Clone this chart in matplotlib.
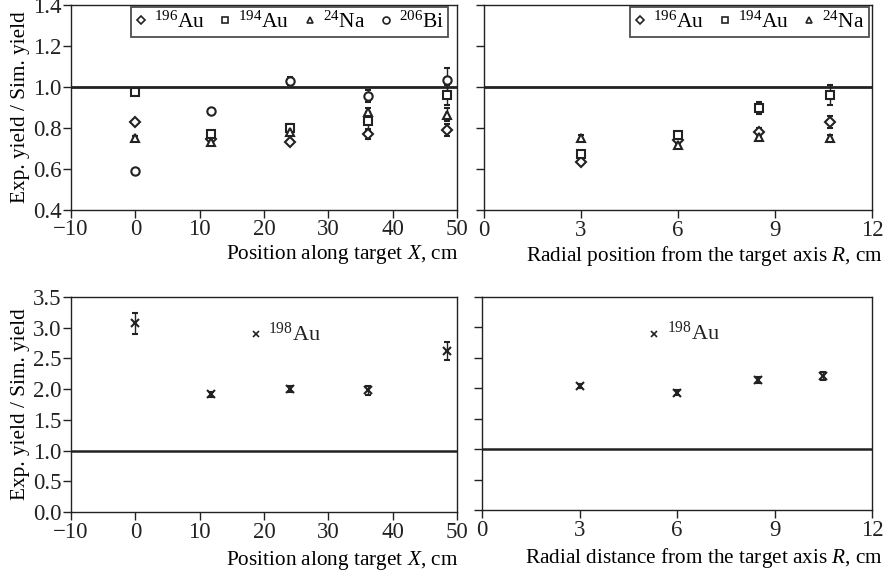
import matplotlib
matplotlib.use("Agg")
import matplotlib.pyplot as plt
import numpy as np

plt.rcParams['font.family'] = ['Liberation Serif', 'DejaVu Serif']
plt.rcParams['mathtext.fontset'] = 'custom'
plt.rcParams['mathtext.rm'] = 'Liberation Serif'
plt.rcParams['mathtext.it'] = 'Liberation Serif:italic'

# ---- Data ----
x_pos = [0, 11.8, 24, 36.2, 48.5]
au196_x = [0.827, 0.745, 0.73, 0.767, 0.79]
au196_x_err = [0.01, 0.01, 0.01, 0.02, 0.03]
au194_x = [0.977, 0.77, 0.797, 0.835, 0.96]
au194_x_err = [0.01, 0.01, 0.02, 0.04, 0.05]
na24_x = [0.75, 0.73, 0.778, 0.878, 0.864]
na24_x_err = [0.01, 0.01, 0.02, 0.02, 0.03]
bi206_x = [0.588, 0.883, 1.03, 0.956, 1.034]
bi206_x_err = [0.01, 0.01, 0.02, 0.03, 0.06]

r_pos = [3, 6, 8.5, 10.7]
au196_r = [0.635, 0.745, 0.78, 0.83]
au196_r_err = [0.01, 0.01, 0.02, 0.03]
au194_r = [0.675, 0.768, 0.9, 0.963]
au194_r_err = [0.01, 0.01, 0.03, 0.05]
na24_r = [0.755, 0.72, 0.76, 0.755]
na24_r_err = [0.01, 0.01, 0.01, 0.01]

au198_x = [3.07, 1.92, 2.0, 1.98, 2.62]
au198_x_err = [0.17, 0.04, 0.05, 0.07, 0.14]
r_pos2 = [3, 6, 8.5, 10.5]
au198_r = [2.04, 1.93, 2.13, 2.2]
au198_r_err = [0.03, 0.04, 0.05, 0.06]

labels = [r'$^{196}$Au', r'$^{194}$Au', r'$^{24}$Na', r'$^{206}$Bi']
markers = ['D', 's', '^', 'o']
msizes = [5, 6, 6, 6]

C = '#222222'
FS_TICK = 16.5
FS_LAB = 15.3
FS_LEG = 15.5

fig = plt.figure(figsize=(8.88, 5.73), dpi=100)
W, H = 888, 573

def add_ax(l, r, t, b):
    return fig.add_axes([l / W, 1 - b / H, (r - l) / W, (b - t) / H])

ax1 = add_ax(71, 457, 5, 209.5)
ax2 = add_ax(484, 872, 5, 210.5)
ax3 = add_ax(71, 457, 297, 512)
ax4 = add_ax(482, 872, 297, 510)

def style(ax):
    for s in ax.spines.values():
        s.set_color(C)
        s.set_linewidth(1.0)
    ax.tick_params(direction='out', length=6, width=1.0, colors=C,
                   labelsize=FS_TICK, pad=1)

def plot_series(ax, x, ys, errs, mk, ms):
    ax.errorbar(x, ys, yerr=errs, fmt=mk, ms=ms, mfc='white', mec=C, mew=1.5,
                ecolor=C, elinewidth=1.0, capsize=2, capthick=1.0, zorder=3)

def legend(ax, n, anchor):
    handles = [plt.Line2D([], [], ls='none', marker=mk, ms=4 if mk == 'D' else 5,
                          mfc='white', mec=C, mew=1.2) for mk in markers[:n]]
    leg = ax.legend(handles, labels[:n], ncol=n, loc='upper right', fontsize=FS_LEG,
                    frameon=True, fancybox=False, edgecolor=C, handlelength=0.5,
                    handletextpad=0.35, columnspacing=0.7, borderpad=0.2,
                    bbox_to_anchor=anchor, borderaxespad=0.0)
    leg.get_frame().set_linewidth(1.3)
    return leg

# Top-left
series_x = [(au196_x, au196_x_err), (au194_x, au194_x_err),
            (na24_x, na24_x_err), (bi206_x, bi206_x_err)]
for (y, e), mk, ms in zip(series_x, markers, msizes):
    plot_series(ax1, x_pos, y, e, mk, ms)
ax1.axhline(1.0, color=C, lw=2.0, zorder=2)
ax1.set_xlim(-10, 50)
ax1.set_ylim(0.4, 1.4)
ax1.set_xticks([-10, 0, 10, 20, 30, 40, 50])
ax1.set_xticklabels(['\u221210', '0', '10', '20', '30', '40', '50'])
ax1.set_yticks([0.4, 0.6, 0.8, 1.0, 1.2, 1.4])
ax1.set_yticklabels(['0.4', '0.6', '0.8', '1.0', '1.2', '1.4'])
ax1.set_xlabel(r'Position along target $X$, cm', fontsize=FS_LAB, ha='right', va='center')
ax1.xaxis.set_label_coords(1.003, -0.22)
ax1.set_ylabel('Exp. yield / Sim. yield', fontsize=FS_LAB, va='center')
ax1.yaxis.set_label_coords(-0.13, 0.5)
style(ax1)
legend(ax1, 4, (0.977, 0.99))

# Top-right
series_r = [(au196_r, au196_r_err), (au194_r, au194_r_err), (na24_r, na24_r_err)]
for (y, e), mk, ms in zip(series_r, markers[:3], msizes[:3]):
    plot_series(ax2, r_pos, y, e, mk, ms)
ax2.axhline(1.0, color=C, lw=2.0, zorder=2)
ax2.set_xlim(0, 12)
ax2.set_ylim(0.4, 1.4)
ax2.set_xticks([0, 3, 6, 9, 12])
ax2.set_yticks([0.4, 0.6, 0.8, 1.0, 1.2, 1.4])
ax2.set_yticklabels([])
ax2.set_xlabel(r'Radial position from the target axis $R$, cm', fontsize=FS_LAB, ha='right', va='center')
ax2.xaxis.set_label_coords(1.028, -0.22)
style(ax2)
legend(ax2, 3, (0.992, 0.99))

# Bottom-left
plot_series(ax3, x_pos, au198_x, au198_x_err, 'x', 6)
ax3.axhline(1.0, color=C, lw=1.8, zorder=2)
ax3.set_xlim(-10, 50)
ax3.set_ylim(0, 3.5)
ax3.set_xticks([-10, 0, 10, 20, 30, 40, 50])
ax3.set_xticklabels(['\u221210', '0', '10', '20', '30', '40', '50'])
ax3.set_yticks([0, 0.5, 1.0, 1.5, 2.0, 2.5, 3.0, 3.5])
ax3.set_yticklabels(['0.0', '0.5', '1.0', '1.5', '2.0', '2.5', '3.0', '3.5'])
ax3.set_xlabel(r'Position along target $X$, cm', fontsize=FS_LAB, ha='right', va='center')
ax3.xaxis.set_label_coords(1.003, -0.225)
ax3.set_ylabel('Exp. yield / Sim. yield', fontsize=FS_LAB, va='center')
ax3.yaxis.set_label_coords(-0.13, 0.5)
style(ax3)
ax3.plot([18.8], [2.9], ls='none', marker='x', ms=4, mec=C, mew=1.2)
ax3.text(20.6, 2.9, r'$^{198}$Au', fontsize=FS_LEG + 0.5, va='center', ha='left', color=C)

# Bottom-right
plot_series(ax4, r_pos2, au198_r, au198_r_err, 'x', 6)
ax4.axhline(1.0, color=C, lw=1.8, zorder=2)
ax4.set_xlim(0, 12)
ax4.set_ylim(0, 3.5)
ax4.set_xticks([0, 3, 6, 9, 12])
ax4.set_yticks([0, 0.5, 1.0, 1.5, 2.0, 2.5, 3.0, 3.5])
ax4.set_yticklabels([])
ax4.set_xlabel(r'Radial distance from the target axis $R$, cm', fontsize=FS_LAB, ha='right', va='center')
ax4.xaxis.set_label_coords(1.028, -0.225)
style(ax4)
ax4.plot([5.3], [2.9], ls='none', marker='x', ms=4, mec=C, mew=1.2)
ax4.text(5.7, 2.9, r'$^{198}$Au', fontsize=FS_LEG + 0.5, va='center', ha='left', color=C)

fig.savefig('out.png', dpi=100)
